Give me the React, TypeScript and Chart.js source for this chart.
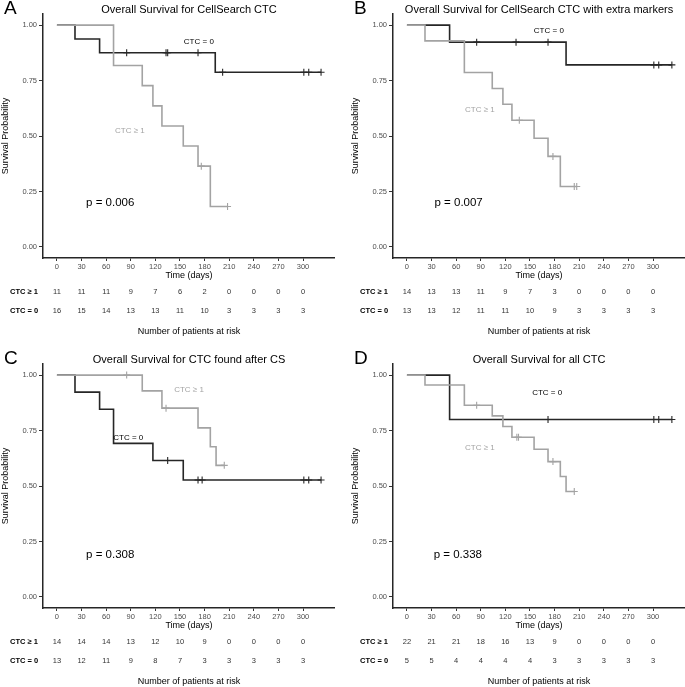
import React, { useEffect, useRef } from 'react';
import { Chart, registerables } from 'chart.js';

Chart.register(...registerables);

// ---------- shared ----------
const timeTicks = [0, 30, 60, 90, 120, 150, 180, 210, 240, 270, 300];
const survTicks = [0, 0.25, 0.5, 0.75, 1];
const rowLabels = ['CTC ≥ 1', 'CTC = 0'];

// ---------- Panel A ----------
const aTitle = 'Overall Survival for CellSearch CTC';
const aPosTimes = [0, 69, 104, 117, 128, 154, 172, 187, 208];
const aPosSurv = [1, 0.818, 0.727, 0.636, 0.545, 0.455, 0.364, 0.182, 0.182];
const aPosCensor = [176, 208];
const aNegTimes = [0, 22, 52, 193, 322];
const aNegSurv = [1, 0.9375, 0.875, 0.7875, 0.7875];
const aNegCensor = [85, 133, 135, 172, 202, 301, 307, 322];
const aPosRisk = [11, 11, 11, 9, 7, 6, 2, 0, 0, 0, 0];
const aNegRisk = [16, 15, 14, 13, 13, 11, 10, 3, 3, 3, 3];
const aP = 'p = 0.006';

// ---------- Panel B ----------
const bTitle = 'Overall Survival for CellSearch CTC with extra markers';
const bPosTimes = [0, 22, 70, 104, 117, 128, 155, 172, 187, 207];
const bPosSurv = [1, 0.929, 0.786, 0.714, 0.643, 0.571, 0.49, 0.408, 0.272, 0.272];
const bPosCensor = [137, 178, 204, 207];
const bNegTimes = [0, 52, 194, 323];
const bNegSurv = [1, 0.923, 0.8205, 0.8205];
const bNegCensor = [85, 133, 172, 301, 307, 323];
const bPosRisk = [14, 13, 13, 11, 9, 7, 3, 0, 0, 0, 0];
const bNegRisk = [13, 13, 12, 11, 11, 10, 9, 3, 3, 3, 3];
const bP = 'p = 0.007';

// ---------- Panel C ----------
const cTitle = 'Overall Survival for CTC found after CS';
const cPosTimes = [0, 104, 128, 172, 187, 194, 204];
const cPosSurv = [1, 0.929, 0.851, 0.762, 0.677, 0.593, 0.593];
const cPosCensor = [85, 133, 204];
const cNegTimes = [0, 22, 52, 69, 117, 154, 322];
const cNegSurv = [1, 0.923, 0.846, 0.692, 0.615, 0.527, 0.527];
const cNegCensor = [135, 172, 177, 301, 307, 322];
const cPosRisk = [14, 14, 14, 13, 12, 10, 9, 0, 0, 0, 0];
const cNegRisk = [13, 12, 11, 9, 8, 7, 3, 3, 3, 3, 3];
const cP = 'p = 0.308';

// ---------- Panel D ----------
const dTitle = 'Overall Survival for all CTC';
const dPosTimes = [0, 22, 70, 104, 117, 128, 155, 172, 187, 194, 204];
const dPosSurv = [1, 0.955, 0.864, 0.816, 0.768, 0.72, 0.666, 0.61, 0.543, 0.475, 0.475];
const dPosCensor = [85, 134, 136, 178, 204];
const dNegTimes = [0, 52, 323];
const dNegSurv = [1, 0.8, 0.8];
const dNegCensor = [172, 301, 307, 323];
const dPosRisk = [22, 21, 21, 18, 16, 13, 9, 0, 0, 0, 0];
const dNegRisk = [5, 5, 4, 4, 4, 4, 3, 3, 3, 3, 3];
const dP = 'p = 0.338';

type Panel = {
  letter: string;
  title: string;
  posTimes: number[];
  posSurv: number[];
  posCensor: number[];
  negTimes: number[];
  negSurv: number[];
  negCensor: number[];
  posRisk: number[];
  negRisk: number[];
  p: string;
};

const panels: Panel[] = [
  { letter: 'A', title: aTitle, posTimes: aPosTimes, posSurv: aPosSurv, posCensor: aPosCensor, negTimes: aNegTimes, negSurv: aNegSurv, negCensor: aNegCensor, posRisk: aPosRisk, negRisk: aNegRisk, p: aP },
  { letter: 'B', title: bTitle, posTimes: bPosTimes, posSurv: bPosSurv, posCensor: bPosCensor, negTimes: bNegTimes, negSurv: bNegSurv, negCensor: bNegCensor, posRisk: bPosRisk, negRisk: bNegRisk, p: bP },
  { letter: 'C', title: cTitle, posTimes: cPosTimes, posSurv: cPosSurv, posCensor: cPosCensor, negTimes: cNegTimes, negSurv: cNegSurv, negCensor: cNegCensor, posRisk: cPosRisk, negRisk: cNegRisk, p: cP },
  { letter: 'D', title: dTitle, posTimes: dPosTimes, posSurv: dPosSurv, posCensor: dPosCensor, negTimes: dNegTimes, negSurv: dNegSurv, negCensor: dNegCensor, posRisk: dPosRisk, negRisk: dNegRisk, p: dP },
];

// layout (positions, not data)
const layouts = [
  { left: 0, top: 0, negLabel: [173, 0.925], posLabel: [89, 0.523], pPos: [65, 0.2] },
  { left: 350, top: 0, negLabel: [173, 0.975], posLabel: [89, 0.618], pPos: [63, 0.2] },
  { left: 0, top: 350, negLabel: [87, 0.717], posLabel: [161, 0.934], pPos: [65, 0.19] },
  { left: 350, top: 350, negLabel: [171, 0.92], posLabel: [89, 0.67], pPos: [62, 0.19] },
];

const W = 335;
const H = 337;
const FONT = '"Liberation Sans", Arial, Helvetica, sans-serif';
const BLACK = '#262626';
const GRAY = '#a3a3a3';

const stepAt = (times: number[], surv: number[], t: number) => {
  let v = surv[0];
  for (let i = 0; i < times.length; i++) if (times[i] <= t) v = surv[i];
  return v;
};

function PanelChart({ panel, layout }: { panel: Panel; layout: any }) {
  const ref = useRef<HTMLCanvasElement | null>(null);
  useEffect(() => {
    if (!ref.current) return;
    const f = (s: number, w = 'normal') => `${w} ${s}px ${FONT}`;
    const decor = {
      id: 'decor',
      afterDraw(chart: any) {
        const { ctx, chartArea } = chart;
        const x = chart.scales.x;
        const y = chart.scales.y;
        const cx = (chartArea.left + chartArea.right) / 2;
        ctx.save();
        // panel letter
        ctx.fillStyle = '#000';
        ctx.font = f(19);
        ctx.textAlign = 'left';
        ctx.textBaseline = 'alphabetic';
        ctx.fillText(panel.letter, 4, 14);
        // title
        ctx.font = f(11);
        ctx.textAlign = 'center';
        ctx.textBaseline = 'middle';
        ctx.fillText(panel.title, cx, 9.5);
        // group labels in plot
        ctx.font = f(8);
        ctx.fillStyle = '#000';
        ctx.fillText(rowLabels[1], x.getPixelForValue(layout.negLabel[0]), y.getPixelForValue(layout.negLabel[1]));
        ctx.fillStyle = GRAY;
        ctx.fillText(rowLabels[0], x.getPixelForValue(layout.posLabel[0]), y.getPixelForValue(layout.posLabel[1]));
        // p value
        ctx.fillStyle = '#000';
        ctx.font = f(11.5);
        ctx.fillText(panel.p, x.getPixelForValue(layout.pPos[0]), y.getPixelForValue(layout.pPos[1]));
        // x title
        ctx.font = f(9);
        ctx.fillText('Time (days)', cx, chartArea.bottom + 17.5);
        // risk table
        const rows = [panel.posRisk, panel.negRisk];
        rows.forEach((row, r) => {
          const ry = chartArea.bottom + 34 + r * 19;
          ctx.font = f(7.5, 'bold');
          ctx.fillStyle = '#000';
          ctx.textAlign = 'left';
          ctx.fillText(rowLabels[r], 10, ry);
          ctx.font = f(7.5);
          ctx.fillStyle = '#333';
          ctx.textAlign = 'center';
          row.forEach((v, i) => ctx.fillText(String(v), x.getPixelForValue(timeTicks[i]), ry));
        });
        ctx.font = f(9);
        ctx.fillStyle = '#000';
        ctx.fillText('Number of patients at risk', cx, chartArea.bottom + 74);
        ctx.restore();
      },
    };

    const line = (times: number[], surv: number[], color: string) => ({
      type: 'line',
      data: times.map((t, i) => ({ x: t, y: surv[i] })),
      borderColor: color,
      borderWidth: 1.6,
      pointRadius: 0,
      stepped: 'before',
      fill: false,
    });
    const marks = (cens: number[], times: number[], surv: number[], color: string) => ({
      type: 'scatter',
      data: cens.map((t) => ({ x: t, y: stepAt(times, surv, t) })),
      borderColor: color,
      backgroundColor: color,
      pointStyle: 'cross',
      pointRadius: 3.5,
      borderWidth: 1.1,
      showLine: false,
    });
    const noPad = (s: any) => {
      s.paddingLeft = 0;
      s.paddingRight = 0;
      s.paddingTop = 0;
      s.paddingBottom = 0;
    };

    const chart = new Chart(ref.current, {
      type: 'scatter',
      data: {
        datasets: [
          line(panel.posTimes, panel.posSurv, GRAY),
          marks(panel.posCensor, panel.posTimes, panel.posSurv, GRAY),
          line(panel.negTimes, panel.negSurv, BLACK),
          marks(panel.negCensor, panel.negTimes, panel.negSurv, BLACK),
        ] as any,
      },
      options: {
        animation: false,
        responsive: false,
        devicePixelRatio: 1,
        events: [],
        layout: { autoPadding: false, padding: { left: 0, right: 0, top: 14, bottom: 0 } },
        plugins: { legend: { display: false }, tooltip: { enabled: false }, title: { display: false } },
        scales: {
          x: {
            type: 'linear',
            min: -17,
            max: 339,
            afterFit: (s: any) => { s.height = H - 258; noPad(s); },
            afterBuildTicks: (s: any) => { s.ticks = timeTicks.map((v) => ({ value: v })); },
            ticks: { font: { family: FONT, size: 7.5 }, color: '#4d4d4d', padding: 1, maxRotation: 0, autoSkip: false },
            grid: { drawOnChartArea: false, drawTicks: true, tickLength: 3, color: '#333', tickWidth: 1 },
            border: { display: true, color: BLACK, width: 1.5 },
          },
          y: {
            type: 'linear',
            min: -0.05,
            max: 1.05,
            afterFit: (s: any) => { s.width = 43; noPad(s); },
            afterBuildTicks: (s: any) => { s.ticks = survTicks.map((v) => ({ value: v })); },
            ticks: {
              font: { family: FONT, size: 7.5 },
              color: '#4d4d4d',
              padding: 2,
              callback: (v: any) => Number(v).toFixed(2),
            },
            grid: { drawOnChartArea: false, drawTicks: true, tickLength: 4, color: '#333', tickWidth: 1 },
            border: { display: true, color: BLACK, width: 1.5 },
            title: { display: true, text: 'Survival Probability', font: { family: FONT, size: 9 }, color: '#000', padding: 0 },
          },
        },
      } as any,
      plugins: [decor],
    });
    return () => chart.destroy();
  }, [panel, layout]);
  return (
    <canvas
      ref={ref}
      width={W}
      height={H}
      style={{ position: 'absolute', left: layout.left, top: layout.top, width: W, height: H }}
    />
  );
}

export default function App() {
  return (
    <div style={{ position: 'fixed', left: 0, top: 0, width: 685, height: 687, background: '#fff', overflow: 'hidden' }}>
      {panels.map((p, i) => (
        <PanelChart key={p.letter} panel={p} layout={layouts[i]} />
      ))}
    </div>
  );
}
